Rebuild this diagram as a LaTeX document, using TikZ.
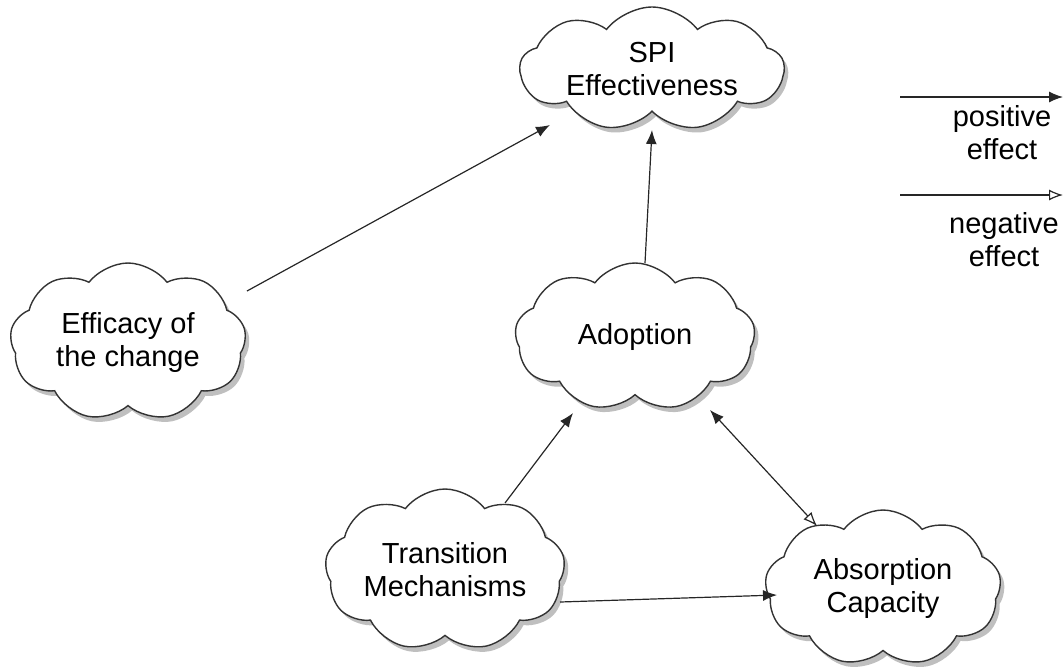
\documentclass[tikz,border=0pt]{standalone}
\usepackage{fontspec}
\setmainfont{Liberation Sans}
\usetikzlibrary{shapes.symbols,shadows,arrows.meta,calc}
\begin{document}
\begin{tikzpicture}[x=0.5pt,y=-0.5pt,
  cloudnode/.style={cloud, cloud puffs=9, cloud puff arc=105, cloud ignores aspect,
    draw=black!80, line width=0.7pt,
    fill=white, align=center, inner sep=0pt,
    font=\fontsize{14.5}{16.5}\selectfont,
    drop shadow={shadow xshift=2pt, shadow yshift=-2.5pt, opacity=0.25, fill=black}},
  posarrow/.style={-{Latex[length=7pt,width=5.5pt]}, line width=0.6pt, draw=black!85},
  negarrow/.style={-{Latex[open,length=7pt,width=5.5pt]}, line width=0.6pt, draw=black!85},
  bothway/.style={{Latex[length=7pt,width=5.5pt]}-{Latex[open,length=7pt,width=5.5pt]}, line width=0.6pt, draw=black!85},
  legtext/.style={align=center, font=\fontsize{14.5}{16.5}\selectfont}]
\useasboundingbox (0,0) rectangle (1063,670);
\node[cloudnode, minimum width=132pt, minimum height=62pt] (spi) at (652,69) {SPI\\Effectiveness};
\node[cloudnode, minimum width=118pt, minimum height=79pt] (eff) at (128,342) {Efficacy of\\the change};
\node[cloudnode, minimum width=120pt, minimum height=74pt] (adop) at (635,337) {Adoption};
\node[cloudnode, minimum width=120pt, minimum height=81pt] (trans) at (445,570) {Transition\\Mechanisms};
\node[cloudnode, minimum width=118pt, minimum height=78pt] (abs) at (883,588) {Absorption\\Capacity};

\draw[posarrow] ($(eff.center)+(119,-51)$) -- ($(spi.center)+(-102,56)$);
\draw[posarrow] ($(adop.center)+(10,-74)$) -- ($(spi.center)+(0,61)$);
\draw[posarrow] ($(trans.center)+(60,-67)$) -- ($(adop.center)+(-62,76)$);
\draw[posarrow] ($(trans.center)+(115,32)$) -- ($(abs.center)+(-106,7)$);
\draw[bothway] ($(adop.center)+(75,73)$) -- ($(abs.center)+(-66,-62)$);

\coordinate (l1a) at (900,97);
\coordinate (l1b) at (1063,97);
\coordinate (l2a) at (900,195);
\coordinate (l2b) at (1063,195);
\draw[posarrow] (l1a) -- (l1b);
\draw[negarrow] (l2a) -- (l2b);
\node[legtext] (lpos) at (1002,133) {positive\\effect};
\node[legtext] (lneg) at (1004,240) {negative\\effect};
\end{tikzpicture}
\end{document}
